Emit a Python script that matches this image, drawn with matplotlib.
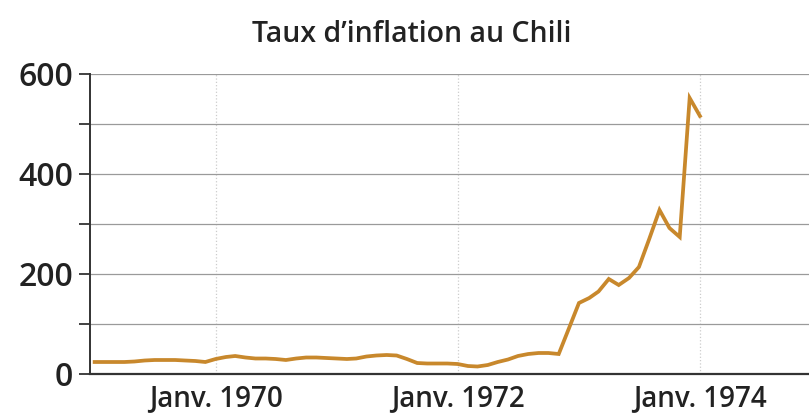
import matplotlib
matplotlib.use("Agg")
import matplotlib.pyplot as plt
import pandas as pd

# === Données ===
debut = "1969-01-01"
inflation = [
    24, 24, 24, 24, 25, 27, 28, 28, 28, 27, 26, 24,      # 1969
    30, 34, 36, 33, 31, 31, 30, 28, 31, 33, 33, 32,      # 1970
    31, 30, 31, 35, 37, 38, 37, 30, 22, 21, 21, 21,      # 1971
    20, 16, 15, 18, 24, 29, 36, 40, 42, 42, 40, 90,      # 1972
    142, 152, 165, 190, 178, 192, 214, 270, 328, 292, 274, 552,  # 1973
    516,                                                  # 1974
]
dates = pd.date_range(debut, periods=len(inflation), freq="MS")

tick_dates = pd.to_datetime(["1970-01-01", "1972-01-01", "1974-01-01"])
tick_labels = ["Janv. 1970", "Janv. 1972", "Janv. 1974"]

plt.rcParams["font.family"] = ["Open Sans", "DejaVu Sans"]

fig = plt.figure(figsize=(8.09, 4.16), dpi=100)
ax = fig.add_axes([90 / 809, 42 / 416, 1 - 90 / 809, 300 / 416])

ax.plot(dates, inflation, color="#C8882C", linewidth=2.7, solid_joinstyle="miter")

ax.set_ylim(0, 600)
ax.set_xlim(pd.Timestamp("1968-12-18"), pd.Timestamp("1974-11-26"))

ax.set_yticks([0, 200, 400, 600])
ax.set_yticks([100, 300, 500], minor=True)
ax.set_xticks(tick_dates)
ax.set_xticklabels(tick_labels)

ax.tick_params(axis="y", which="both", direction="out", length=8, width=1.3,
               color="#333333", labelsize=23, pad=4)
ax.tick_params(axis="x", length=0, labelsize=20, pad=7)
for lab in ax.get_yticklabels() + ax.get_xticklabels():
    lab.set_fontweight("semibold")
    lab.set_color("#222222")

ax.grid(True, axis="y", which="both", color="#9a9a9a", linewidth=0.9)
ax.grid(True, axis="x", which="major", color="#cccccc", linewidth=0.9, linestyle=":")
ax.set_axisbelow(True)

for s in ["top", "right"]:
    ax.spines[s].set_visible(False)
ax.spines["left"].set_color("#333333")
ax.spines["left"].set_linewidth(1.4)
ax.spines["bottom"].set_color("#333333")
ax.spines["bottom"].set_linewidth(1.6)

fig.text(412 / 809, 1 - 34 / 416, "Taux d\u2019inflation au Chili", ha="center", va="center",
         fontsize=20.5, fontweight="semibold", color="#222222")

fig.savefig("out.png", dpi=100)
